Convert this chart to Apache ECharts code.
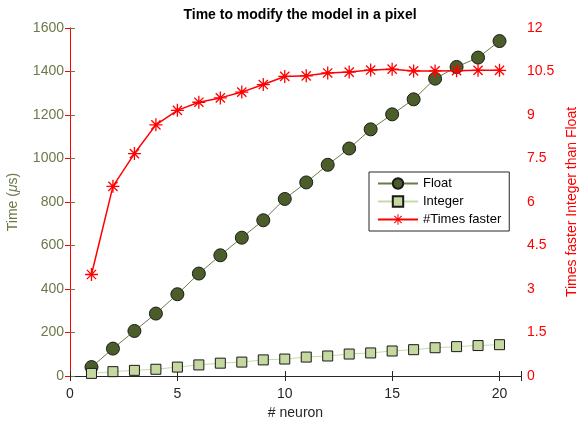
<!DOCTYPE html>
<html><head><meta charset="utf-8">
<script src="https://cdn.jsdelivr.net/npm/echarts@6/dist/echarts.min.js"></script>
<style>html,body{margin:0;padding:0;background:#fff}#c{width:581px;height:425px}</style>
</head><body><div id="c"></div>
<script>
var neurons = [1,2,3,4,5,6,7,8,9,10,11,12,13,14,15,16,17,18,19,20];
var floatTime = [41,126,207,287,376,471,555,636,716,814,890,971,1046,1134,1203,1272,1367,1421,1464,1540];
var integerTime = [12,20,26,31,41,51,59,64,74,78,87,92,101,106,115,121,130,135,140,144];
var timesFaster = [3.5,6.54,7.67,8.66,9.16,9.44,9.59,9.79,10.05,10.33,10.35,10.45,10.48,10.55,10.58,10.52,10.52,10.53,10.54,10.54];
var xTicks = [0,5,10,15,20];

var olive = '#6b7a4a';
var star = 'path://M9 0L11 0L11 20L9 20Z M0 9L20 9L20 11L0 11Z M3.64 2.22L17.78 16.36L16.36 17.78L2.22 3.64Z M17.78 3.64L3.64 17.78L2.22 16.36L16.36 2.22Z';
function pairs(ys){ return neurons.map(function(x,i){return [x, ys[i]];}); }

var chart = echarts.init(document.getElementById('c'), null, {renderer:'canvas'});
var font = 'Liberation Sans, Arial, Helvetica, sans-serif';
chart.setOption({
  animation:false,
  textStyle:{fontFamily:font},
  title:{text:'Time to modify the model in a pixel', left:295, textAlign:'center', top:3,
    textStyle:{fontSize:14, fontWeight:'bold', color:'#000', fontFamily:font}},
  grid:{left:70, right:60, top:28, bottom:49, containLabel:false, outerBoundsMode:'none'},
  legend:{orient:'vertical', left:369, top:172, width:139, itemWidth:40, itemHeight:13, itemGap:5,
    padding:[5,8,5,8], backgroundColor:'#fff', borderColor:'#262626', borderWidth:1,
    textStyle:{fontSize:13, color:'#000', fontFamily:font},
    data:['Float','Integer','#Times faster']},
  xAxis:[{type:'value', min:0, max:21, interval:5, position:'bottom',
    name:'# neuron', nameLocation:'middle', nameGap:29,
    nameTextStyle:{fontSize:14, color:'#262626', fontFamily:font},
    axisLine:{lineStyle:{color:'#262626', width:1}},
    axisTick:{inside:true, length:5, lineStyle:{color:'#262626'}},
    axisLabel:{fontSize:14, color:'#262626', margin:11, fontFamily:font,
      formatter:function(v){return xTicks.indexOf(v)>=0 ? String(v) : '';}},
    splitLine:{show:false}},
   {type:'value', min:0, max:21, interval:5, position:'top',
    axisLine:{lineStyle:{color:'#262626', width:1}},
    axisTick:{inside:true, length:5, lineStyle:{color:'#262626'}},
    axisLabel:{show:false}, splitLine:{show:false}}],
  yAxis:[{type:'value', min:0, max:1600, interval:200, position:'left',
    name:'Time ({i|μ}s)', nameLocation:'middle', nameGap:50, nameRotate:90,
    nameTextStyle:{fontSize:14, color:olive, fontFamily:font, rich:{i:{fontStyle:'italic', fontSize:14, color:olive, fontFamily:font}}},
    axisLine:{show:true, lineStyle:{color:olive, width:1}},
    axisTick:{show:true, inside:true, length:5, lineStyle:{color:olive}},
    axisLabel:{fontSize:14, color:olive, margin:6, fontFamily:font, formatter:function(v){return String(v);}},
    splitLine:{show:false}},
   {type:'value', min:0, max:12, interval:1.5, position:'right',
    name:'Times faster Integer than Float', nameLocation:'middle', nameGap:44, nameRotate:90,
    nameTextStyle:{fontSize:14, color:'#ff0000', fontFamily:font},
    axisLine:{show:true, lineStyle:{color:'#ff0000', width:1}},
    axisTick:{show:true, inside:true, length:5, lineStyle:{color:'#ff0000'}},
    axisLabel:{fontSize:14, color:'#ff0000', margin:6, fontFamily:font, formatter:function(v){return String(v);}},
    splitLine:{show:false}}],
  series:[
    {name:'Float', type:'line', xAxisIndex:0, yAxisIndex:0, data:pairs(floatTime),
     symbol:'circle', symbolSize:13, showAllSymbol:true,
     lineStyle:{color:olive, width:1}, itemStyle:{color:'#4b5e29', borderColor:'#1a1a1a', borderWidth:1}},
    {name:'Integer', type:'line', xAxisIndex:0, yAxisIndex:0, data:pairs(integerTime),
     symbol:'rect', symbolSize:10, showAllSymbol:true,
     lineStyle:{color:'#c5dba5', width:1}, itemStyle:{color:'#c4d8a0', borderColor:'#1a1a1a', borderWidth:1}},
    {name:'#Times faster', type:'line', xAxisIndex:0, yAxisIndex:1, data:pairs(timesFaster),
     symbol:star, symbolSize:13, showAllSymbol:true,
     lineStyle:{color:'#ff0000', width:1.5}, itemStyle:{color:'#ff0000', borderWidth:0}}
  ]
});
</script></body></html>
